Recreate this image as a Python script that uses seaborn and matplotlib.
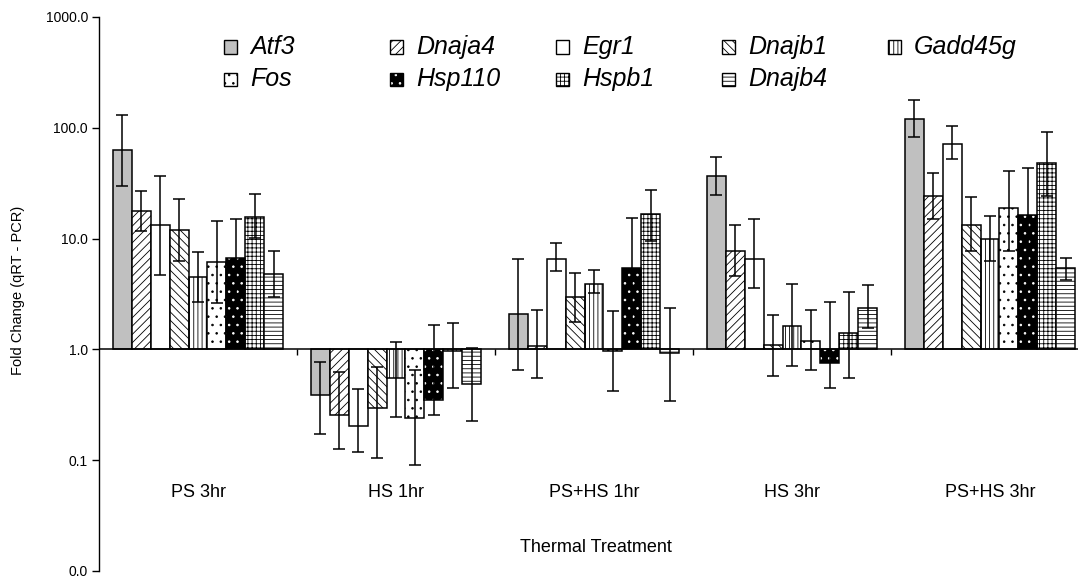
import numpy as np
import pandas as pd
import matplotlib
matplotlib.use("Agg")
import matplotlib.pyplot as plt
import seaborn as sns
from matplotlib.patches import Rectangle

# ---------------- data ----------------
treatments = ["PS 3hr", "HS 1hr", "PS+HS 1hr", "HS 3hr", "PS+HS 3hr"]
genes = ["Atf3", "Dnaja4", "Egr1", "Dnajb1", "Gadd45g", "Fos", "Hsp110", "Hspb1", "Dnajb4"]

atf3 = [63, 0.39, 2.1, 37, 119]
dnaja4 = [17.7, 0.255, 1.07, 7.7, 24.3]
egr1 = [13.3, 0.205, 6.5, 6.5, 71]
dnajb1 = [11.9, 0.295, 2.97, 1.09, 13.3]
gadd45g = [4.5, 0.555, 3.92, 1.62, 10.0]
fos = [6.2, 0.24, 0.97, 1.2, 18.9]
hsp110 = [6.7, 0.35, 5.4, 0.75, 16.3]
hspb1 = [15.8, 0.965, 16.8, 1.42, 47.9]
dnajb4 = [4.8, 0.49, 0.92, 2.36, 5.4]

# error bar lower / upper bounds
atf3_lo = [30, 0.173, 0.65, 24.8, 82]
atf3_hi = [130, 0.77, 6.5, 55, 177]
dnaja4_lo = [11.6, 0.127, 0.55, 4.6, 14.9]
dnaja4_hi = [27, 0.62, 2.28, 13.3, 39]
egr1_lo = [4.66, 0.119, 5.07, 3.6, 52]
egr1_hi = [37, 0.44, 9.2, 14.9, 103]
dnajb1_lo = [6.3, 0.104, 1.77, 0.58, 7.7]
dnajb1_hi = [22.8, 0.70, 4.9, 2.03, 23.6]
gadd45g_lo = [2.7, 0.243, 3.2, 0.71, 6.3]
gadd45g_hi = [7.5, 1.16, 5.2, 3.92, 15.9]
fos_lo = [2.64, 0.09, 0.42, 0.65, 7.7]
fos_hi = [14.4, 0.65, 2.2, 2.28, 41]
hsp110_lo = [3.0, 0.257, 1.9, 0.45, 6.0]
hsp110_hi = [14.9, 1.67, 15.2, 2.7, 43.8]
hspb1_lo = [10.1, 0.45, 9.5, 0.55, 24.3]
hspb1_hi = [25.5, 1.72, 27.7, 3.3, 91.8]
dnajb4_lo = [2.95, 0.224, 0.34, 1.55, 4.2]
dnajb4_hi = [7.7, 1.03, 2.36, 3.8, 6.7]

y_tick_values = [0.01, 0.1, 1, 10, 100, 1000]

means = [atf3, dnaja4, egr1, dnajb1, gadd45g, fos, hsp110, hspb1, dnajb4]
lows = [atf3_lo, dnaja4_lo, egr1_lo, dnajb1_lo, gadd45g_lo, fos_lo, hsp110_lo, hspb1_lo, dnajb4_lo]
highs = [atf3_hi, dnaja4_hi, egr1_hi, dnajb1_hi, gadd45g_hi, fos_hi, hsp110_hi, hspb1_hi, dnajb4_hi]

# ---------------- styling ----------------
facecolors = {"Atf3": "#c0c0c0", "Dnaja4": "white", "Egr1": "white", "Dnajb1": "white",
              "Gadd45g": "white", "Fos": "white", "Hsp110": "black", "Hspb1": "white",
              "Dnajb4": "white"}
hatches = {"Atf3": "", "Dnaja4": "////", "Egr1": "", "Dnajb1": "\\\\\\\\",
           "Gadd45g": "||||", "Fos": "..", "Hsp110": "..", "Hspb1": "++++",
           "Dnajb4": "----"}

sns.set_theme(style="white")
plt.rcParams["font.family"] = ["Liberation Sans", "DejaVu Sans"]
plt.rcParams["hatch.linewidth"] = 0.6

W, H = 1078, 578
fig = plt.figure(figsize=(W / 100, H / 100), dpi=100)
ax = fig.add_axes([99 / W, 7 / H, 990 / W, 554 / H])

rows = []
for g, m in zip(genes, means):
    for t, v in zip(treatments, m):
        rows.append({"Treatment": t, "Gene": g, "fold": v})
df = pd.DataFrame(rows)
df["log_fold"] = np.log10(df["fold"])

sns.barplot(data=df, x="Treatment", y="log_fold", hue="Gene", order=treatments,
            hue_order=genes, palette=facecolors, width=0.86, errorbar=None,
            legend=False, saturation=1, edgecolor="black", linewidth=1.1, ax=ax)

for g, cont, m, lo, hi in zip(genes, ax.containers, means, lows, highs):
    xs = []
    for p in cont:
        p.set_hatch(hatches[g])
        if g == "Hsp110":
            p.set_edgecolor("white")
            p.set_linewidth(0)
            ax.add_patch(Rectangle(p.get_xy(), p.get_width(), p.get_height(),
                                   fill=False, edgecolor="black", linewidth=1.1,
                                   zorder=p.get_zorder() + 0.1))
        else:
            p.set_edgecolor("black")
        xs.append(p.get_x() + p.get_width() / 2)
    y = np.log10(np.array(m, dtype=float))
    ylo = y - np.log10(np.array(lo, dtype=float))
    yhi = np.log10(np.array(hi, dtype=float)) - y
    ax.errorbar(xs, y, yerr=[ylo, yhi], fmt="none", ecolor="black",
                elinewidth=1.1, capsize=4.5, capthick=1.1, zorder=5)

# baseline at 1.0 with category boundary ticks
ax.axhline(0, color="black", lw=1.1, zorder=6)
xb = np.arange(len(treatments)) + 0.5
ax.plot(xb, np.zeros_like(xb), ls="none", marker=3, ms=4, mew=1, color="black", zorder=6)

ax.set_xlim(-0.5, len(treatments) - 0.5)
ax.set_ylim(np.log10(y_tick_values[0]), np.log10(y_tick_values[-1]))
ax.set_yticks(np.log10(y_tick_values))
ax.set_yticklabels([f"{v:.1f}" for v in y_tick_values])
ax.set_xticks([])
ax.set_xlabel("")
ax.set_ylabel("")
ax.tick_params(axis="y", direction="out", length=5, width=1, labelsize=10, pad=3,
               colors="black", left=True)
for s in ["top", "right", "bottom"]:
    ax.spines[s].set_visible(False)
ax.spines["left"].set_color("black")
ax.spines["left"].set_linewidth(1)

for i, t in enumerate(treatments):
    ax.text(i, -1.296, t, ha="center", va="center", fontsize=13, color="black")

fig.text(596 / W, 1 - 548 / H, "Thermal Treatment", ha="center", va="center",
         fontsize=13, color="black")
fig.text(18 / W, 1 - 290 / H, "Fold Change (qRT - PCR)", ha="center", va="center",
         rotation=90, fontsize=10.5, color="black")

# legend (Excel-like uniform grid)
for i, g in enumerate(genes):
    r = 0 if i < 5 else 1
    c = i if i < 5 else i - 5
    x0 = 224 + c * 166
    yc = 47 + r * 32
    rect = Rectangle((x0 / W, 1 - (yc + 6.5) / H), 13 / W, 13 / H, transform=fig.transFigure,
                     facecolor=facecolors[g], hatch=hatches[g],
                     edgecolor="white" if g == "Hsp110" else "black",
                     linewidth=0 if g == "Hsp110" else 1)
    fig.add_artist(rect)
    if g == "Hsp110":
        fig.add_artist(Rectangle((x0 / W, 1 - (yc + 6.5) / H), 13 / W, 13 / H,
                                 transform=fig.transFigure, fill=False,
                                 edgecolor="black", linewidth=1))
    fig.text((x0 + 26) / W, 1 - yc / H, g, ha="left", va="center", fontsize=18,
             style="italic", color="black")

fig.savefig("out.png", dpi=100)
